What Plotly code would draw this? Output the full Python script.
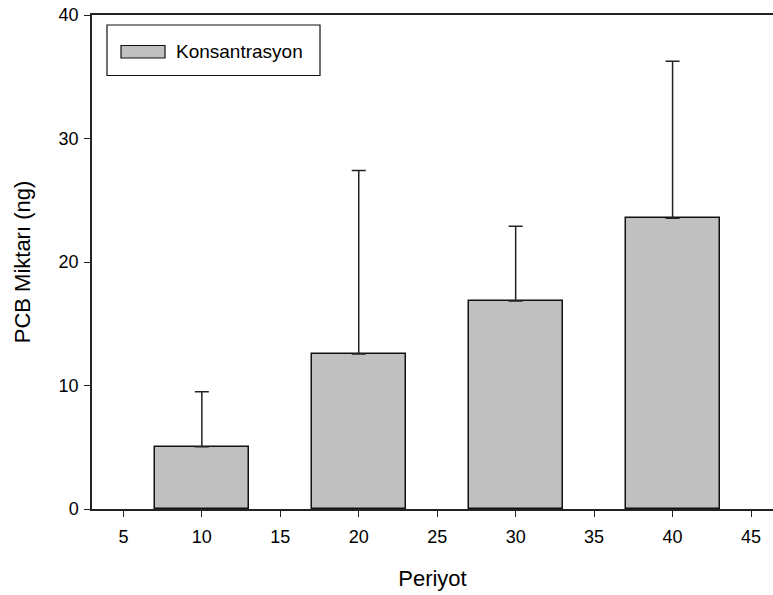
import plotly.graph_objects as go

periods = [10, 20, 30, 40]
concentration = [5.05, 12.55, 16.85, 23.55]
error_upper = [4.45, 14.85, 6.05, 12.7]
x_ticks = [5, 10, 15, 20, 25, 30, 35, 40, 45]
y_ticks = [0, 10, 20, 30, 40]
series_name = "Konsantrasyon"

FONT = "Arial, Liberation Sans, sans-serif"

fig = go.Figure()
fig.add_trace(go.Bar(
    x=periods, y=concentration, width=6, name=series_name,
    marker=dict(color="#c0c0c0", line=dict(color="#111111", width=1.5)),
    error_y=dict(type="data", symmetric=False, array=error_upper,
                 arrayminus=[0] * len(periods), color="#222222",
                 thickness=1.5, width=7),
    showlegend=False,
))

# legend box drawn manually
fig.add_shape(type="rect", xref="paper", yref="paper",
              x0=(107 - 92) / 681, x1=(320 - 92) / 681,
              y0=1 - (75.5 - 15) / 494, y1=1 - (25 - 15) / 494,
              line=dict(color="#111111", width=1.2), fillcolor="white")
fig.add_shape(type="rect", xref="paper", yref="paper",
              x0=(121 - 92) / 681, x1=(165 - 92) / 681,
              y0=1 - (58 - 15) / 494, y1=1 - (45.5 - 15) / 494,
              line=dict(color="#111111", width=1.2), fillcolor="#c0c0c0")
fig.add_annotation(xref="paper", yref="paper",
                   x=(174 - 92) / 681, y=1 - (51.5 - 15) / 494,
                   text=series_name, showarrow=False, xanchor="left",
                   yanchor="middle", font=dict(family=FONT, size=19, color="#000000"))

fig.update_layout(
    width=773, height=595,
    margin=dict(l=92, r=0, t=15, b=86),
    paper_bgcolor="white", plot_bgcolor="white",
    font=dict(family=FONT, size=18, color="#000000"),
    bargap=0,
)
fig.update_xaxes(
    range=[3.0, 46.4], tickvals=x_ticks, ticks="outside", ticklen=6,
    tickwidth=1.2, tickcolor="#222222", showline=True, linecolor="#222222",
    linewidth=1.5, mirror=True, showgrid=False, zeroline=False,
    title=dict(text="Periyot", font=dict(family=FONT, size=22), standoff=24),
    tickfont=dict(size=18), ticklabelstandoff=5,
)
fig.update_yaxes(
    range=[0, 40], tickvals=y_ticks, ticks="outside", ticklen=6,
    tickwidth=1.2, tickcolor="#222222", showline=True, linecolor="#222222",
    linewidth=1.5, showgrid=False, zeroline=False,
    title=dict(text="PCB Miktarı (ng)", font=dict(family=FONT, size=22), standoff=22),
    tickfont=dict(size=18), ticklabelstandoff=2,
)

fig.write_html("out.html")
